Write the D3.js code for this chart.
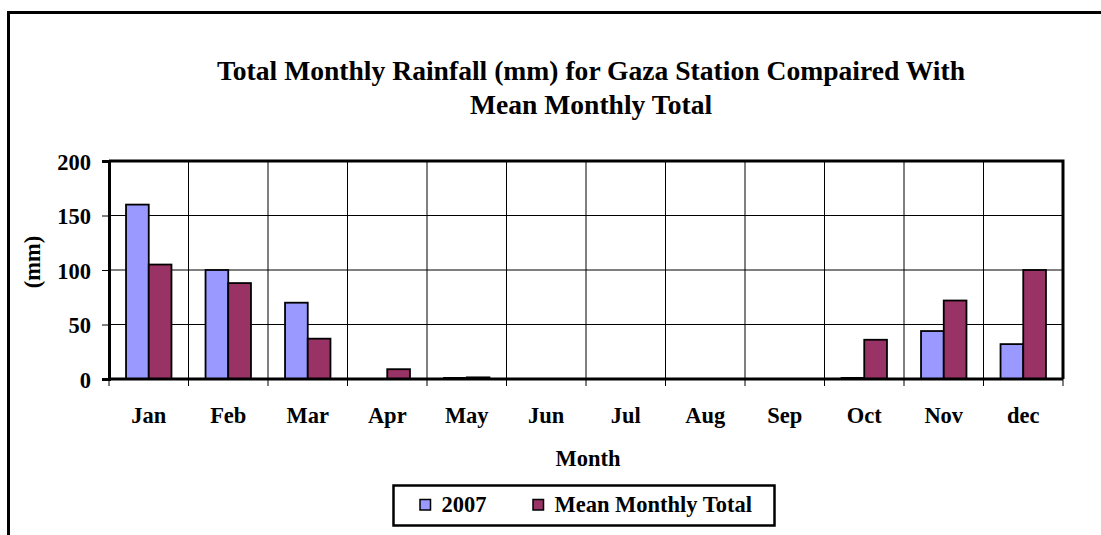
<!DOCTYPE html>
<html>
<head>
<meta charset="utf-8">
<script src="https://cdn.jsdelivr.net/npm/d3@7/dist/d3.min.js"></script>
</head>
<body style="margin:0;background:#fff">
<svg id="chart" width="1101" height="535" style="display:block"></svg>
<script>
// Monthly rainfall at Gaza station (mm)
const months = ["Jan", "Feb", "Mar", "Apr", "May", "Jun", "Jul", "Aug", "Sep", "Oct", "Nov", "dec"];
const rain2007 = [160, 100, 70, 0, 1, 0, 0, 0, 0, 1, 44, 32];
const meanMonthly = [105, 88, 37, 9, 1.5, 0, 0, 0, 0, 36, 72, 100];
const seriesNames = ["2007", "Mean Monthly Total"];
const seriesColors = ["#9999FF", "#993366"];
const yTicks = [0, 50, 100, 150, 200];

const titleLines = ["Total Monthly Rainfall (mm) for Gaza Station Compaired With", "Mean Monthly Total"];

const FONT = "'Liberation Serif'";
const svg = d3.select("#chart");

function styleText(sel, size) {
  return sel.style("font-family", FONT).style("font-weight", "bold")
    .style("font-size", size + "px").attr("fill", "#000");
}

// Outer chart frame
svg.append("rect")
  .attr("x", 8.5).attr("y", 12.5)
  .attr("width", 1200).attr("height", 600)
  .attr("fill", "none").attr("stroke", "#000").attr("stroke-width", 3);

const plot = { left: 109, top: 161, right: 1063, bottom: 379 };

const x = d3.scaleBand().domain(months).range([plot.left, plot.right]).paddingInner(0).paddingOuter(0);
const y = d3.scaleLinear().domain([0, 200]).range([plot.bottom, plot.top]);

// Two bars per month, with a gap of 1.5 bar widths between groups
const gap = 1.5;
const edge = x.bandwidth() * gap / (2 + gap) / 2;
const xs = d3.scaleBand().domain(seriesNames).range([edge, x.bandwidth() - edge]);

// Gridlines
svg.append("g").selectAll("line")
  .data(yTicks.filter(d => d > 0 && d < 200))
  .join("line")
  .attr("x1", plot.left).attr("x2", plot.right)
  .attr("y1", d => y(d)).attr("y2", d => y(d))
  .attr("stroke", "#000").attr("stroke-width", 1);

svg.append("g").selectAll("line")
  .data(months.slice(1))
  .join("line")
  .attr("x1", d => x(d)).attr("x2", d => x(d))
  .attr("y1", plot.top).attr("y2", plot.bottom)
  .attr("stroke", "#000").attr("stroke-width", 1);

// Bars
[rain2007, meanMonthly].forEach((vals, si) => {
  svg.append("g").selectAll("rect")
    .data(vals.map((v, i) => ({ m: months[i], v })))
    .join("rect")
    .attr("x", d => x(d.m) + xs(seriesNames[si]))
    .attr("width", xs.bandwidth())
    .attr("y", d => y(d.v))
    .attr("height", d => y(0) - y(d.v))
    .attr("fill", seriesColors[si])
    .attr("stroke", "#000")
    .attr("stroke-width", 1.8);
});

// Plot frame (top and right)
svg.append("path")
  .attr("d", `M${plot.left},${plot.top}H${plot.right}V${plot.bottom}`)
  .attr("fill", "none").attr("stroke", "#000").attr("stroke-width", 3);

// Y axis
const yAxis = d3.axisLeft(y).tickValues(yTicks).tickSize(7).tickPadding(11);
const gy = svg.append("g").attr("transform", `translate(${plot.left},0)`).call(yAxis);
gy.attr("font-family", null);
gy.select(".domain").attr("stroke-width", 3);
gy.selectAll(".tick line").attr("stroke-width", 1);
styleText(gy.selectAll(".tick text"), 22.5).attr("dy", "0.36em");

// X axis: ticks on category boundaries, labels centred in each band
const gx = svg.append("g").attr("transform", `translate(0,${plot.bottom})`);
gx.append("line")
  .attr("x1", plot.left).attr("x2", plot.right)
  .attr("stroke", "#000").attr("stroke-width", 3);
gx.selectAll("line.tk")
  .data(months.map(m => x(m)).concat([plot.right]))
  .join("line")
  .attr("class", "tk")
  .attr("x1", d => d).attr("x2", d => d)
  .attr("y1", 0).attr("y2", 7)
  .attr("stroke", "#000").attr("stroke-width", 1);
styleText(gx.selectAll("text")
  .data(months)
  .join("text")
  .attr("x", d => x(d) + x.bandwidth() / 2)
  .attr("y", 44)
  .attr("text-anchor", "middle")
  .text(d => d), 22.5);

// Axis titles
styleText(svg.append("text")
  .attr("x", 588).attr("y", 466)
  .attr("text-anchor", "middle")
  .text("Month"), 22.5);

styleText(svg.append("text")
  .attr("transform", `translate(40,262) rotate(-90)`)
  .attr("text-anchor", "middle")
  .text("(mm)"), 22.5);

// Title
styleText(svg.append("g").selectAll("text")
  .data(titleLines)
  .join("text")
  .attr("x", 591)
  .attr("y", (d, i) => 80 + i * 34)
  .attr("text-anchor", "middle")
  .text(d => d), 27.6);

// Legend
const lg = svg.append("g");
lg.append("rect")
  .attr("x", 393.5).attr("y", 485.5).attr("width", 381).attr("height", 40)
  .attr("fill", "#fff").attr("stroke", "#000").attr("stroke-width", 2.5);
const legendX = [420, 533];
seriesNames.forEach((name, i) => {
  lg.append("rect")
    .attr("x", legendX[i]).attr("y", 499.5)
    .attr("width", 10.5).attr("height", 10.5)
    .attr("fill", seriesColors[i]).attr("stroke", "#000").attr("stroke-width", 1.5);
  styleText(lg.append("text")
    .attr("x", legendX[i] + 21.5).attr("y", 512)
    .text(name), 22.5);
});
</script>
</body>
</html>
